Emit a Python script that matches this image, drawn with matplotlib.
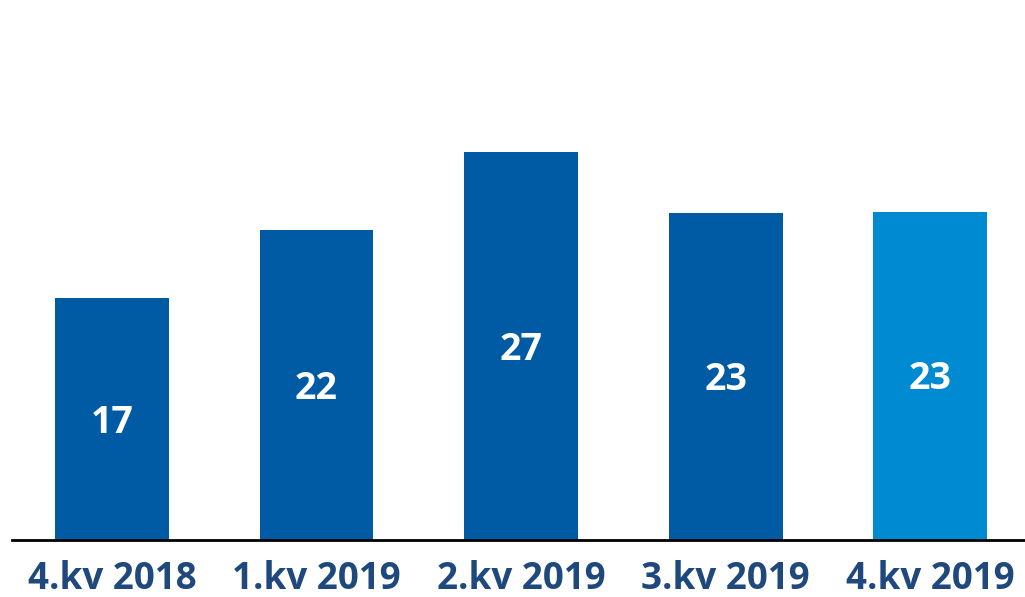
import matplotlib
matplotlib.use("Agg")
import matplotlib.pyplot as plt

categories = ["4.kv 2018", "1.kv 2019", "2.kv 2019", "3.kv 2019", "4.kv 2019"]
values = [17, 21.8, 27.3, 23.0, 23.1]
labels = ["17", "22", "27", "23", "23"]
colors = ["#005AA4", "#005AA4", "#005AA4", "#005AA4", "#008AD2"]

fig = plt.figure(figsize=(10.25, 5.97), dpi=100)
ax = fig.add_axes([12/1025, 57/597, 1013/1025, 540/597])
x = list(range(len(categories)))
bars = ax.bar(x, values, width=0.557, color=colors)
for xi, v, lab in zip(x, values, labels):
    ax.text(xi, v/2 - 0.95, lab, ha="center", va="baseline", color="white",
            fontsize=27, fontweight="bold", family="Open Sans")
ax.set_xlim(-0.489, 4.464)
ax.set_ylim(0, 38.0)
ax.set_yticks([])
ax.set_xticks(x)
ax.set_xticklabels(categories, fontsize=26.5, fontweight="bold", color="#1F497D", family="Open Sans")
ax.tick_params(axis="x", length=0, pad=14.5)
for s in ["top", "right", "left"]:
    ax.spines[s].set_visible(False)
ax.spines["bottom"].set_linewidth(2)
ax.spines["bottom"].set_color("black")
fig.savefig("out.png", dpi=100)
